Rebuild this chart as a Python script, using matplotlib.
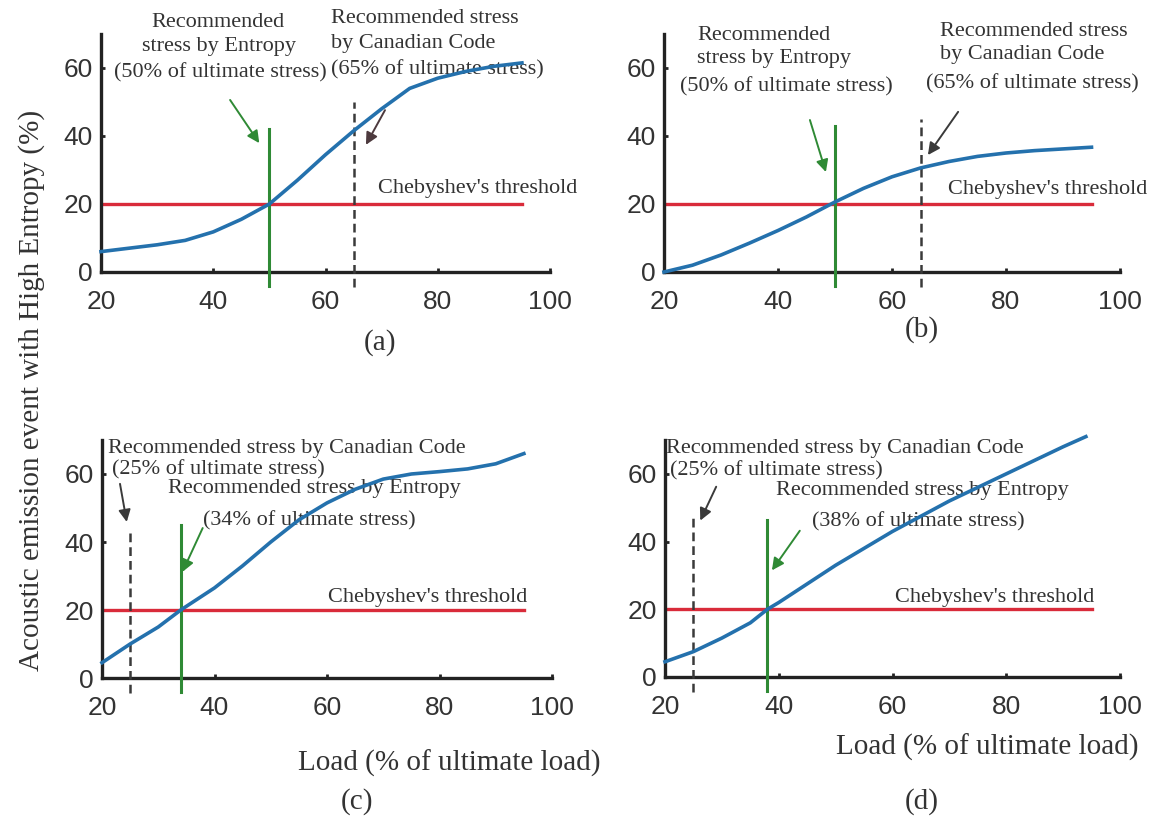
import matplotlib.pyplot as plt
import numpy as np

# load levels (% of ultimate load) and AE events with high entropy (%)
load_a = [20, 25, 30, 35, 40, 45, 50, 55, 60, 65, 70, 75, 80, 85, 90, 95]
events_a = [6, 7, 8, 9.3, 11.8, 15.5, 20, 27, 34.5, 41.5, 48, 54, 57, 59, 60.5, 61.5]

load_b = [20, 25, 30, 35, 40, 45, 50, 55, 60, 65, 70, 75, 80, 85, 90, 95]
events_b = [0, 2, 5, 8.5, 12.2, 16.2, 20.6, 24.6, 28, 30.6, 32.5, 34, 35, 35.7, 36.2, 36.7]

load_c = [20, 25, 30, 34, 40, 45, 50, 55, 60, 65, 70, 75, 80, 85, 90, 95]
events_c = [4.5, 10, 15, 20, 26.5, 33, 40, 46.5, 51.5, 55.5, 58.5, 60, 60.7, 61.5, 63, 66]

load_d = [20, 25, 30, 35, 38, 40, 45, 50, 55, 60, 65, 70, 75, 80, 85, 90, 94]
events_d = [4.5, 7.5, 11.5, 16, 20, 22, 27.5, 33, 38, 43, 47.5, 52, 56, 60, 64, 68, 71]

threshold = 20
entropy_stress = [50, 50, 34, 38]
code_stress = [65, 65, 25, 25]
panel_tags = ['(a)', '(b)', '(c)', '(d)']

BLUE = '#2471ad'
RED = '#d92b3a'
GREEN = '#2f8a35'
DARK = '#3a3a3a'
TXT = '#333333'
SERIF = 'Liberation Serif'

fig = plt.figure(figsize=(11.5, 8.19), dpi=100)
W, H = 1150, 819


def make_axes(left, right, bottom, top):
    ax = fig.add_axes([left / W, 1 - bottom / H, (right - left) / W, (bottom - top) / H])
    ax.set_xlim(20, 100)
    ax.set_ylim(0, 70)
    ax.set_xticks([20, 40, 60, 80, 100])
    ax.set_yticks([0, 20, 40, 60])
    for s in ['top', 'right']:
        ax.spines[s].set_visible(False)
    for s in ['left', 'bottom']:
        ax.spines[s].set_linewidth(2.4)
        ax.spines[s].set_color('#222222')
    ax.tick_params(direction='in', length=3, width=2, colors='#222222',
                   labelcolor=TXT, labelsize=19)
    ax.tick_params(axis='x', pad=13)
    ax.tick_params(axis='y', pad=6)
    for lab in ax.get_xticklabels() + ax.get_yticklabels():
        lab.set_family('Liberation Sans')
    return ax


def draw_panel(ax, load, events, entropy_x, code_x, green_top, dash_top):
    ax.plot([20, 95], [threshold, threshold], color=RED, lw=2.4, zorder=2)
    ax.plot([entropy_x, entropy_x], [-4, green_top], color=GREEN, lw=2.2,
            clip_on=False, zorder=3)
    ax.plot([code_x, code_x], [-4.5, dash_top], color=DARK, lw=1.8,
            ls=(0, (3.5, 2)), clip_on=False, zorder=3)
    ax.plot(load, events, color=BLUE, lw=2.6, clip_on=False, zorder=4,
            solid_joinstyle='round')


def note(ax, x, y, s, **kw):
    ax.text(x, y, s, family=SERIF, fontsize=16, color=TXT, va='center',
            clip_on=False, **kw)


def arrow(ax, start, end, color):
    ax.annotate('', xy=end, xytext=start, annotation_clip=False,
                arrowprops=dict(arrowstyle='-|>', color=color, lw=1.4,
                                mutation_scale=18, shrinkA=0, shrinkB=0))


# (a)
ax = make_axes(101, 550, 272, 34)
draw_panel(ax, load_a, events_a, entropy_stress[0], code_stress[0], 42, 50)
note(ax, 40.8, 73.5, 'Recommended', ha='center')
note(ax, 41.0, 66.2, 'stress by Entropy', ha='center')
note(ax, 41.3, 58.6, '(50% of ultimate stress)', ha='center')
note(ax, 61.0, 74.7, 'Recommended stress', ha='left')
note(ax, 61.0, 67.1, 'by Canadian Code', ha='left')
note(ax, 61.0, 59.4, '(65% of ultimate stress)', ha='left')
arrow(ax, (43.0, 50.6), (48.2, 37.9), GREEN)
arrow(ax, (70.6, 47.6), (67.2, 37.4), '#4d3a3e')
note(ax, 69.4, 24.7, "Chebyshev's threshold", ha='left')

# (b)
ax = make_axes(664, 1120, 272, 34)
draw_panel(ax, load_b, events_b, entropy_stress[1], code_stress[1], 43, 45)
note(ax, 25.8, 69.7, 'Recommended', ha='left')
note(ax, 25.8, 62.9, 'stress by Entropy', ha='left')
note(ax, 22.8, 54.4, '(50% of ultimate stress)', ha='left')
note(ax, 68.4, 70.6, 'Recommended stress', ha='left')
note(ax, 68.4, 64.1, 'by Canadian Code', ha='left')
note(ax, 66.0, 55.3, '(65% of ultimate stress)', ha='left')
arrow(ax, (45.6, 44.7), (48.4, 29.4), GREEN)
arrow(ax, (71.6, 47.1), (66.3, 34.4), DARK)
note(ax, 69.8, 24.4, "Chebyshev's threshold", ha='left')

# (c)
ax = make_axes(102, 552, 678, 440)
draw_panel(ax, load_c, events_c, entropy_stress[2], code_stress[2], 45, 44)
note(ax, 21.1, 67.6, 'Recommended stress by Canadian Code', ha='left')
note(ax, 21.8, 61.2, '(25% of ultimate stress)', ha='left')
arrow(ax, (23.2, 57.1), (24.4, 45.9), DARK)
note(ax, 31.7, 55.6, 'Recommended stress by Entropy', ha='left')
note(ax, 37.9, 46.2, '(34% of ultimate stress)', ha='left')
arrow(ax, (37.9, 44.1), (34.3, 31.2), GREEN)
note(ax, 60.1, 23.8, "Chebyshev's threshold", ha='left')

# (d)
ax = make_axes(665, 1120, 677, 440)
draw_panel(ax, load_d, events_d, entropy_stress[3], code_stress[3], 46.5, 47)
note(ax, 20.2, 67.4, 'Recommended stress by Canadian Code', ha='left')
note(ax, 20.9, 60.9, '(25% of ultimate stress)', ha='left')
arrow(ax, (29.0, 56.2), (26.2, 46.2), DARK)
note(ax, 39.5, 55.0, 'Recommended stress by Entropy', ha='left')
note(ax, 45.8, 45.9, '(38% of ultimate stress)', ha='left')
arrow(ax, (43.7, 43.2), (38.8, 31.5), GREEN)
note(ax, 60.4, 23.5, "Chebyshev's threshold", ha='left')

# shared labels and panel tags
fig.text(32 / W, 1 - 390 / H, 'Acoustic emission event with High Entropy (%)',
         rotation=90, ha='center', va='center', family=SERIF, fontsize=21, color=TXT)
fig.text(449 / W, 1 - 763 / H, 'Load (% of ultimate load)', ha='center', va='center',
         family=SERIF, fontsize=21, color=TXT)
fig.text(987 / W, 1 - 747 / H, 'Load (% of ultimate load)', ha='center', va='center',
         family=SERIF, fontsize=21, color=TXT)
for tag, (px, py) in zip(panel_tags, [(380, 343), (922, 330), (357, 802), (922, 802)]):
    fig.text(px / W, 1 - py / H, tag, ha='center', va='center', family=SERIF,
             fontsize=21, color=TXT)

fig.savefig('out.png', dpi=100)
